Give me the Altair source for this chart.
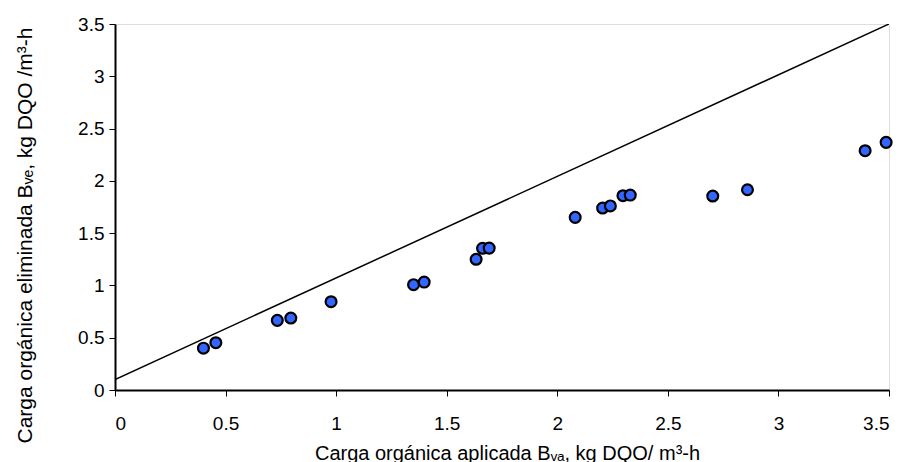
import altair as alt
import pandas as pd

x_applied = [0.40, 0.456, 0.734, 0.795, 0.977, 1.35, 1.398, 1.633, 1.662, 1.692,
             2.081, 2.205, 2.24, 2.297, 2.33, 2.703, 2.86, 3.392, 3.487]
y_removed = [0.40, 0.452, 0.666, 0.688, 0.844, 1.007, 1.032, 1.25, 1.355, 1.357,
             1.651, 1.74, 1.76, 1.858, 1.864, 1.855, 1.915, 2.288, 2.368]
line_x = [0.0, 3.5]
line_y = [0.1, 3.5]
ticks = [0, 0.5, 1, 1.5, 2, 2.5, 3, 3.5]

pts = pd.DataFrame({"x": x_applied, "y": y_removed})
ln = pd.DataFrame({"x": line_x, "y": line_y})

FONT = "Liberation Sans"
x_title = "Carga orgánica aplicada Bᵥₐ, kg DQO/ m³-h"
y_title = "Carga orgánica eliminada Bᵥₑ, kg DQO /m³-h"

xs = alt.Scale(domain=[0, 3.5], nice=False, zero=False)
ys = alt.Scale(domain=[0, 3.5], nice=False, zero=False)

xaxis = alt.Axis(values=ticks, format="~g", grid=False, title=x_title,
                 domainColor="black", domainWidth=2, tickColor="black", tickSize=6,
                 labelFont=FONT, labelFontSize=19, labelColor="black", labelPadding=18,
                 titleFont=FONT, titleFontSize=20, titleFontWeight="normal", titleColor="black",
                 titleX=392, titleY=63, titleBaseline="middle", titleAnchor="middle")
yaxis = alt.Axis(values=ticks, format="~g", grid=False, title=y_title,
                 domainColor="black", domainWidth=2, tickColor="black", tickSize=6,
                 labelFont=FONT, labelFontSize=19, labelColor="black", labelPadding=5,
                 titleFont=FONT, titleFontSize=21, titleFontWeight="normal", titleColor="black",
                 titleX=-90, titleY=211, titleBaseline="middle", titleAngle=-90)

line = alt.Chart(ln).mark_line(color="black", strokeWidth=1.5, clip=True).encode(
    x=alt.X("x:Q", scale=xs, axis=xaxis),
    y=alt.Y("y:Q", scale=ys, axis=yaxis),
)
points = alt.Chart(pts).mark_point(filled=True, fill="#3366ff", stroke="black",
                                    strokeWidth=2.2, size=118, opacity=1, shape="circle").encode(
    x=alt.X("x:Q", scale=xs),
    y=alt.Y("y:Q", scale=ys),
)

chart = (line + points).properties(
    width=774, height=366,
    autosize=alt.AutoSizeParams(type="none"),
    padding={"left": 107, "top": 16, "right": 10, "bottom": 72},
).configure_view(stroke="black", strokeWidth=2).configure(background="white")

chart.save("out.html", embed_options={"renderer": "svg", "actions": False})
